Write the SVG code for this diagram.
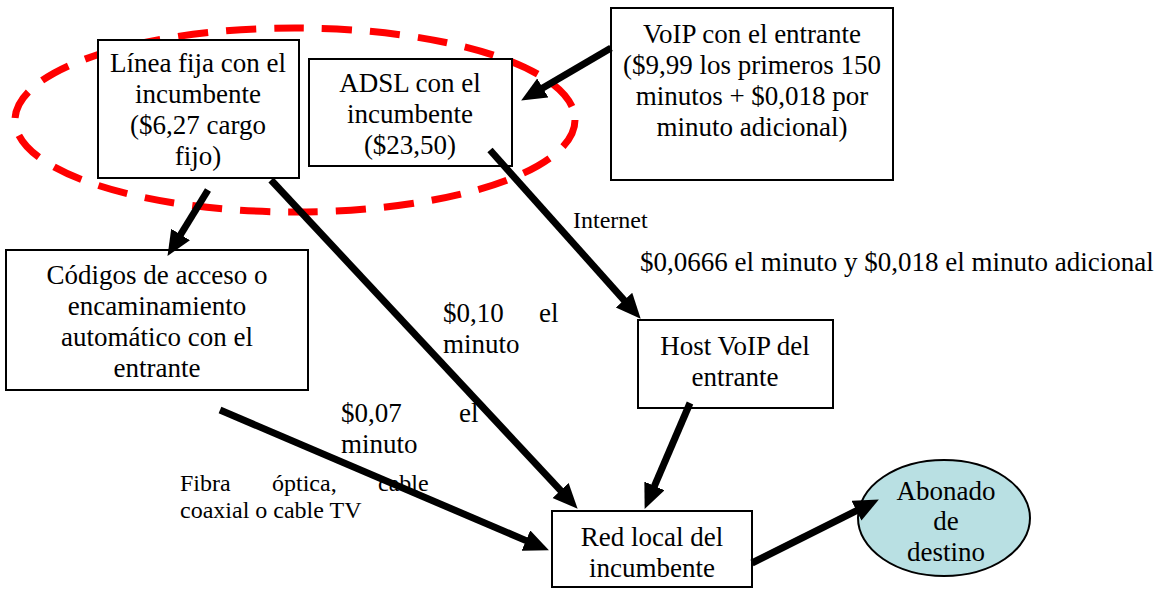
<svg xmlns="http://www.w3.org/2000/svg" width="1159" height="589" viewBox="0 0 1159 589">
  <defs>
    <style>
      .box { fill: #ffffff; stroke: #000000; stroke-width: 2; }
      .t { font-family: "Liberation Serif", "Times New Roman", serif; font-size: 27px; fill: #000000; text-anchor: middle; }
      .lbl { font-family: "Liberation Serif", "Times New Roman", serif; font-size: 27px; fill: #000000; }
      .sm { font-family: "Liberation Serif", "Times New Roman", serif; font-size: 24px; fill: #000000; }
      .edge { stroke: #000000; stroke-width: 7; fill: none; marker-end: url(#head); }
    </style>
    <marker id="head" markerUnits="userSpaceOnUse" markerWidth="28" markerHeight="24" refX="4" refY="11" orient="auto">
      <path d="M0,0 L25,11 L0,22 Z" fill="#000000"/>
    </marker>
  </defs>

  <rect width="1159" height="589" fill="#ffffff"/>

  <!-- grouping outline around the incumbent services -->
  <ellipse id="incumbent-group" cx="295" cy="120" rx="280" ry="92" fill="none" stroke="#ff0000" stroke-width="7" stroke-dasharray="30 18"/>

  <g id="linea-fija">
    <rect class="box" x="98" y="40" width="201" height="138"/>
    <text class="t" x="198" y="72">Línea fija con el</text>
    <text class="t" x="198" y="103">incumbente</text>
    <text class="t" x="198" y="134">($6,27 cargo</text>
    <text class="t" x="198" y="165">fijo)</text>
  </g>

  <g id="adsl">
    <rect class="box" x="309" y="59" width="203" height="107"/>
    <text class="t" x="410" y="92">ADSL con el</text>
    <text class="t" x="410" y="123">incumbente</text>
    <text class="t" x="410" y="154">($23,50)</text>
  </g>

  <g id="voip-entrante">
    <rect class="box" x="611" y="8" width="282" height="172"/>
    <text class="t" x="752" y="43">VoIP con el entrante</text>
    <text class="t" x="752" y="74">($9,99 los primeros 150</text>
    <text class="t" x="752" y="105">minutos + $0,018 por</text>
    <text class="t" x="752" y="136">minuto adicional)</text>
  </g>

  <g id="codigos-acceso">
    <rect class="box" x="6" y="250" width="302" height="140"/>
    <text class="t" x="157" y="284">Códigos de acceso o</text>
    <text class="t" x="157" y="315">encaminamiento</text>
    <text class="t" x="157" y="346">automático con el</text>
    <text class="t" x="157" y="377">entrante</text>
  </g>

  <g id="host-voip">
    <rect class="box" x="638" y="320" width="195" height="88"/>
    <text class="t" x="735" y="355">Host VoIP del</text>
    <text class="t" x="735" y="386">entrante</text>
  </g>

  <g id="red-local">
    <rect class="box" x="552" y="511" width="200" height="76"/>
    <text class="t" x="652" y="546">Red local del</text>
    <text class="t" x="652" y="577">incumbente</text>
  </g>

  <g id="abonado-destino">
    <ellipse cx="944" cy="518" rx="86" ry="58" fill="#b9e0e3" stroke="#000000" stroke-width="2"/>
    <text class="t" x="946" y="500">Abonado</text>
    <text class="t" x="946" y="530">de</text>
    <text class="t" x="946" y="561">destino</text>
  </g>

  <!-- edge labels -->
  <g id="labels">
    <text class="sm" x="573" y="228">Internet</text>
    <text class="lbl" x="640" y="271">$0,0666 el minuto y $0,018 el minuto adicional</text>
    <text class="lbl" x="443" y="322">$0,10</text>
    <text class="lbl" x="539" y="322">el</text>
    <text class="lbl" x="443" y="353">minuto</text>
    <text class="lbl" x="341" y="422">$0,07</text>
    <text class="lbl" x="459" y="422">el</text>
    <text class="lbl" x="341" y="453">minuto</text>
    <text class="sm" x="180" y="491">Fibra</text>
    <text class="sm" x="272" y="491">óptica,</text>
    <text class="sm" x="378" y="491">cable</text>
    <text class="sm" x="180" y="518">coaxial o cable TV</text>
  </g>

  <g id="connectors">
    <line class="edge" x1="611" y1="48" x2="539.3" y2="89.9"/>
    <line class="edge" x1="208" y1="190" x2="178.5" y2="238"/>
    <line class="edge" x1="271" y1="180" x2="563.3" y2="493.4"/>
    <line class="edge" x1="490" y1="150" x2="626.7" y2="303.1"/>
    <line class="edge" x1="220" y1="410" x2="529.6" y2="542.1"/>
    <line class="edge" x1="690" y1="403" x2="652.9" y2="489.6"/>
    <line class="edge" x1="752" y1="563" x2="860.1" y2="508.9"/>
  </g>
</svg>
